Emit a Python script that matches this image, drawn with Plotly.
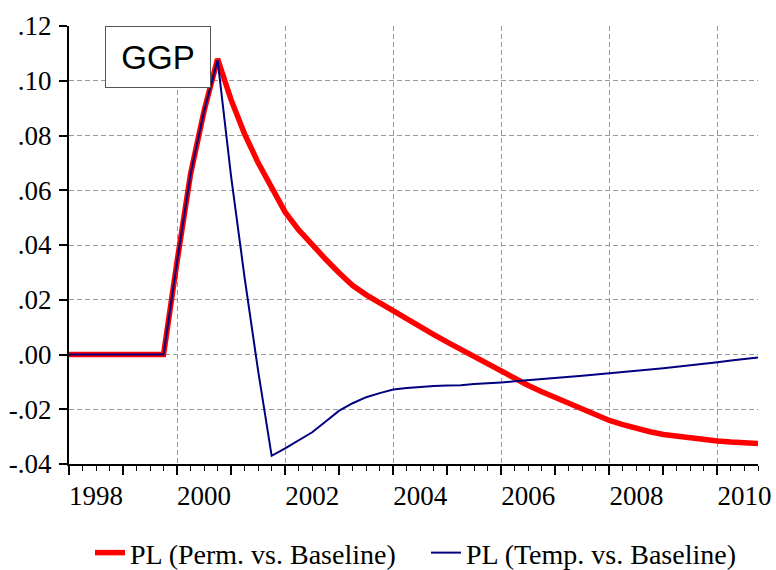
import pandas as pd
import plotly.graph_objects as go

# Quarterly sample, 1998Q1 - 2010Q4
quarters = pd.period_range("1998Q1", "2010Q4", freq="Q")
x_pos = [p.year + (p.quarter - 1) / 4 for p in quarters]

# PL, permanent shock vs. baseline
pl_perm = [
    0.0, 0.0, 0.0, 0.0, 0.0, 0.0, 0.0, 0.0,
    0.034, 0.066, 0.089, 0.108,
    0.093, 0.0805, 0.0700, 0.0605,
    0.0520, 0.0455, 0.0400, 0.0348,
    0.0298, 0.0252, 0.0218, 0.0188,
    0.0158, 0.0131, 0.0103, 0.0073,
    0.0045, 0.0018, -0.0008, -0.0034,
    -0.0061, -0.0087, -0.0113, -0.0136,
    -0.0157, -0.0178, -0.0198, -0.0221,
    -0.0241, -0.0256, -0.0270, -0.0282,
    -0.0292, -0.0299, -0.0305, -0.0311,
    -0.0316, -0.0320, -0.0324, -0.0325,
]

# PL, temporary shock vs. baseline
pl_temp = [
    0.0, 0.0, 0.0, 0.0, 0.0, 0.0, 0.0, 0.0,
    0.034, 0.066, 0.089, 0.1075,
    0.065, 0.028, -0.006, -0.037,
    -0.0343, -0.0313, -0.0284, -0.0245,
    -0.0205, -0.0178, -0.0156, -0.0141,
    -0.0128, -0.0122, -0.0118, -0.0115,
    -0.0113, -0.0112, -0.0108, -0.0106,
    -0.0102, -0.0098, -0.0094, -0.0091,
    -0.0088, -0.0083, -0.0078, -0.0073,
    -0.0069, -0.0065, -0.0060, -0.0055,
    -0.0050, -0.0045, -0.0040, -0.0035,
    -0.0028, -0.0022, -0.0016, -0.0011,
]

series_names = ["PL (Perm. vs. Baseline)", "PL (Temp. vs. Baseline)"]
panel_title = "GGP"

year_ticks = list(range(1998, 2011))
year_labels = [str(y) if y % 2 == 0 else "" for y in year_ticks]
grid_years = list(range(2000, 2011, 2))
y_ticks = [-0.04, -0.02, 0.0, 0.02, 0.04, 0.06, 0.08, 0.10, 0.12]
y_labels = ["-.04", "-.02", ".00", ".02", ".04", ".06", ".08", ".10", ".12"]

serif = "Liberation Serif"
grid_col = "#9a9a9a"

fig = go.Figure()
fig.add_trace(go.Scatter(x=x_pos, y=pl_perm, mode="lines", name=series_names[0],
                         line=dict(color="#ff0000", width=5.5)))
fig.add_trace(go.Scatter(x=x_pos, y=pl_temp, mode="lines", name=series_names[1],
                         line=dict(color="#000080", width=2)))
# helper trace so the grid-only overlay axis is rendered
fig.add_trace(go.Scatter(x=[], y=[], xaxis="x2", showlegend=False, hoverinfo="skip"))

fig.update_layout(
    width=776, height=570,
    margin=dict(l=69, r=18, t=26, b=106, autoexpand=False),
    paper_bgcolor="white", plot_bgcolor="white",
    font=dict(family=serif, size=27, color="black"),
    xaxis=dict(
        range=[1998, 2010.75], tickmode="array",
        tickvals=year_ticks, ticktext=year_labels,
        ticks="outside", ticklen=9, tickwidth=1.5, tickcolor="black",
        ticklabelshift=27, ticklabelstandoff=-2,
        showgrid=False, zeroline=False,
        showline=True, linecolor="black", linewidth=2,
        minor=dict(tick0=1998, dtick=0.25, ticks="outside", ticklen=5,
                   tickwidth=1.2, tickcolor="black", showgrid=False),
        tickfont=dict(family=serif, size=27),
    ),
    xaxis2=dict(
        overlaying="x", matches="x", side="bottom",
        tickmode="array", tickvals=grid_years,
        showticklabels=False, ticks="",
        showgrid=True, gridcolor=grid_col, gridwidth=1, griddash="5px,3px",
        zeroline=False, showline=False,
    ),
    yaxis=dict(
        range=[-0.04, 0.12], tickmode="array",
        tickvals=y_ticks, ticktext=y_labels,
        ticks="outside", ticklen=8, tickwidth=1.5, tickcolor="black",
        ticklabelstandoff=2,
        showgrid=True, gridcolor=grid_col, gridwidth=1, griddash="5px,3px",
        zeroline=False, showline=True, linecolor="black", linewidth=2,
        tickfont=dict(family=serif, size=27),
    ),
    legend=dict(
        orientation="h", x=0.0305, xanchor="left", y=-0.203, yanchor="middle",
        entrywidth=291, entrywidthmode="pixels",
        font=dict(family=serif, size=28), bgcolor="rgba(0,0,0,0)",
    ),
    showlegend=True,
)

fig.add_annotation(
    text=panel_title, xref="paper", yref="paper",
    x=0.129, y=0.929, xanchor="center", yanchor="middle",
    showarrow=False, width=104, height=60,
    font=dict(family="Liberation Sans", size=33, color="black"),
    bgcolor="white", bordercolor="#555555", borderwidth=1, borderpad=0,
)

fig.write_html("out.html")
